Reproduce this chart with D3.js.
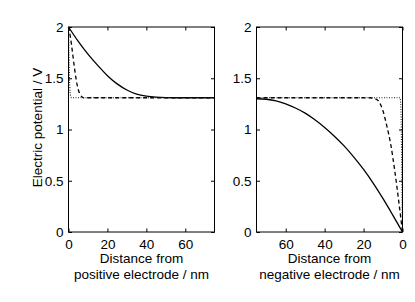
<!DOCTYPE html>
<html>
<head>
<meta charset="utf-8">
<script src="https://cdn.jsdelivr.net/npm/d3@7"></script>
<style>
  body { margin: 0; background: #fff; }
  text { font-family: "Liberation Sans", Arial, Helvetica, sans-serif; }
</style>
</head>
<body>
<div id="chart"></div>
<script>
// Tick values and labels
var yTicks = [0, 0.5, 1, 1.5, 2];
var yTickLabels = ["0", "0.5", "1", "1.5", "2"];
var xTicksLeft = [0, 20, 40, 60];
var xTicksRight = [60, 40, 20, 0];

// Left panel: distance from positive electrode (nm), potential (V)
var solidLeft = [[0, 2.0], [5, 1.86], [10, 1.735], [15, 1.625], [20, 1.525], [25, 1.445], [30, 1.385],
  [35, 1.345], [40, 1.325], [45, 1.315], [50, 1.311], [55, 1.31], [75, 1.31]];
var dashedLeft = [[0, 2.0], [1, 1.9], [2, 1.76], [3, 1.61], [4, 1.48], [5, 1.39], [6, 1.34],
  [7, 1.318], [8, 1.31], [75, 1.31]];
var dottedLeft = [[0, 2.0], [0.25, 1.72], [0.5, 1.5], [0.8, 1.37], [1.2, 1.32], [1.6, 1.31], [75, 1.31]];

// Right panel: distance from negative electrode (nm), potential (V)
var solidRight = [[75, 1.30], [70, 1.295], [65, 1.28], [60, 1.25], [55, 1.21], [50, 1.16], [45, 1.095],
  [40, 1.02], [35, 0.935], [30, 0.84], [25, 0.73], [20, 0.61], [15, 0.475], [10, 0.325], [5, 0.165], [0, 0]];
var dashedRight = [[75, 1.31], [17, 1.31], [14, 1.30], [12, 1.27], [10, 1.18], [8, 1.03], [6, 0.85],
  [4, 0.6], [2, 0.31], [0, 0]];
var dottedRight = [[75, 1.31], [1.3, 1.31], [0.9, 1.25], [0.6, 1.0], [0.4, 0.62], [0.2, 0.27], [0, 0]];

var width = 415, height = 302;
var plotTop = 27, plotBottom = 232;
var fontSize = 13.5;

var svg = d3.select("#chart").append("svg")
  .attr("width", width)
  .attr("height", height);

var y = d3.scaleLinear().domain([0, 2]).range([plotBottom, plotTop]);

function panel(x0, x1, domain, xTicks, series, label1, label2, showYLabel) {
  var x = d3.scaleLinear().domain(domain).range([x0, x1]);
  var g = svg.append("g");

  // curves
  var line = d3.line()
    .x(function(d) { return x(d[0]); })
    .y(function(d) { return y(d[1]); })
    .curve(d3.curveMonotoneX);

  series.forEach(function(s) {
    g.append("path")
      .datum(s.data)
      .attr("fill", "none")
      .attr("stroke", s.color)
      .attr("stroke-width", s.w)
      .attr("stroke-dasharray", s.dash)
      .attr("d", line);
  });

  // axes with inward ticks
  var bottomAxis = g.append("g")
    .attr("transform", "translate(0," + plotBottom + ")")
    .call(d3.axisBottom(x).tickValues(xTicks).tickSizeInner(-3.5).tickSizeOuter(0).tickPadding(6));
  var topAxis = g.append("g")
    .attr("transform", "translate(0," + plotTop + ")")
    .call(d3.axisTop(x).tickValues(xTicks).tickSizeInner(-3.5).tickSizeOuter(0).tickFormat(""));
  var leftAxis = g.append("g")
    .attr("transform", "translate(" + x0 + ",0)")
    .call(d3.axisLeft(y).tickValues(yTicks).tickSizeInner(-3.5).tickSizeOuter(0).tickPadding(5)
      .tickFormat(function(d, i) { return yTickLabels[i]; }));
  var rightAxis = g.append("g")
    .attr("transform", "translate(" + x1 + ",0)")
    .call(d3.axisRight(y).tickValues(yTicks).tickSizeInner(-3.5).tickSizeOuter(0).tickFormat(""));

  [bottomAxis, topAxis, leftAxis, rightAxis].forEach(function(a) {
    a.select(".domain").remove();
    a.selectAll("line").attr("stroke", "#000").attr("stroke-width", 1);
    a.selectAll("text").attr("font-size", fontSize).attr("fill", "#000")
      .style("font-family", "'Liberation Sans', Arial, sans-serif");
  });
  bottomAxis.selectAll("text").attr("dy", "0.72em").attr("y", 7);

  // box
  g.append("rect")
    .attr("x", x0).attr("y", plotTop)
    .attr("width", x1 - x0).attr("height", plotBottom - plotTop)
    .attr("fill", "none").attr("stroke", "#000").attr("stroke-width", 1);

  var cx = (x0 + x1) / 2;
  g.append("text").attr("x", cx).attr("y", 263).attr("text-anchor", "middle")
    .attr("font-size", fontSize).text(label1);
  g.append("text").attr("x", cx).attr("y", 279).attr("text-anchor", "middle")
    .attr("font-size", fontSize).text(label2);

  if (showYLabel) {
    g.append("text")
      .attr("transform", "translate(42," + ((plotTop + plotBottom) / 2 - 2) + ")rotate(-90)")
      .attr("text-anchor", "middle")
      .attr("font-size", fontSize)
      .text("Electric potential / V");
  }
}

var leftSeries = [
  { data: solidLeft, dash: null, w: 1.3, color: "#000" },
  { data: dashedLeft, dash: "4,3", w: 1.3, color: "#000" },
  { data: dottedLeft, dash: "1,1.5", w: 1.1, color: "#222" }
];
var rightSeries = [
  { data: solidRight, dash: null, w: 1.3, color: "#000" },
  { data: dashedRight, dash: "4,3", w: 1.3, color: "#000" },
  { data: dottedRight, dash: "1,1.5", w: 1.1, color: "#222" }
];

panel(68.5, 214.5, [0, 75], xTicksLeft, leftSeries, "Distance from", "positive electrode / nm", true);
panel(256.5, 402.5, [75, 0], xTicksRight, rightSeries, "Distance from", "negative electrode / nm", false);
</script>
</body>
</html>
